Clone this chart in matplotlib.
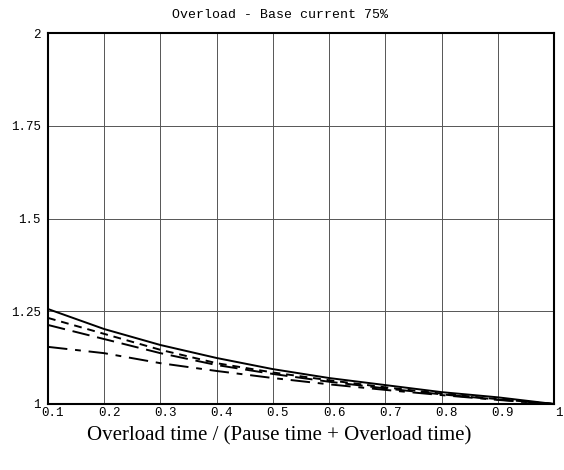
import numpy as np
import matplotlib
matplotlib.use("Agg")
import matplotlib.pyplot as plt
import matplotlib.transforms as mtransforms

# duty ratio: overload time / (pause time + overload time)
x = [0.1, 0.2, 0.3, 0.4, 0.5, 0.6, 0.7, 0.8, 0.9, 1.0]

# overload factor curves
solid = [1.256, 1.202, 1.159, 1.124, 1.094, 1.070, 1.051, 1.032, 1.018, 1.0]
short_dash = [1.232, 1.189, 1.146, 1.110, 1.085, 1.064, 1.045, 1.028, 1.013, 1.0]
long_dash = [1.213, 1.175, 1.137, 1.105, 1.081, 1.060, 1.042, 1.026, 1.012, 1.0]
dash_dot = [1.154, 1.137, 1.110, 1.089, 1.070, 1.053, 1.038, 1.024, 1.011, 1.0]

xticks = [0.1, 0.2, 0.3, 0.4, 0.5, 0.6, 0.7, 0.8, 0.9, 1.0]
xlabels = ["0.1", "0.2", "0.3", "0.4", "0.5", "0.6", "0.7", "0.8", "0.9", "1"]
yticks = [1, 1.25, 1.5, 1.75, 2]
ylabels = ["1", "1.25", "1.5", "1.75", "2"]

mono = "Liberation Mono"

fig = plt.figure(figsize=(5.64, 4.70), dpi=100)
ax = fig.add_axes([48 / 564, 1 - 404 / 470, 506 / 564, 371 / 470])

ax.plot(x, solid, color="black", lw=1.4, linestyle="-")
ax.plot(x, short_dash, color="black", lw=1.4, linestyle=(0, (4, 3)))
ax.plot(x, long_dash, color="black", lw=1.4, linestyle=(0, (9, 4)))
ax.plot(x, dash_dot, color="black", lw=1.4, linestyle=(0, (10, 4, 3, 4)))

ax.set_xlim(0.1, 1.0)
ax.set_ylim(1, 2)
ax.set_xticks(xticks)
ax.set_xticklabels(xlabels, fontfamily=mono, fontsize=9)
ax.set_yticks(yticks)
ax.set_yticklabels(ylabels, fontfamily=mono, fontsize=9)
ax.tick_params(axis="x", length=0, pad=2)
ax.tick_params(axis="y", length=0, pad=5)
ax.grid(True, color="#555555", lw=0.7)

# labels in the original sit slightly to the right of their tick
shift = mtransforms.ScaledTranslation(5 / 100, 0, fig.dpi_scale_trans)
for lbl in ax.get_xticklabels():
    lbl.set_transform(lbl.get_transform() + shift)

for s in ax.spines.values():
    s.set_linewidth(1.5)

fig.text(0.497, 1 - 15 / 470, "Overload - Base current 75%", fontfamily=mono,
         fontsize=9.5, ha="center", va="center")
fig.text(0.495, 1 - 436 / 470, "Overload time / (Pause time + Overload time)",
         fontfamily="Liberation Serif", fontsize=15, ha="center", va="center")

plt.savefig("out.png", dpi=100)
